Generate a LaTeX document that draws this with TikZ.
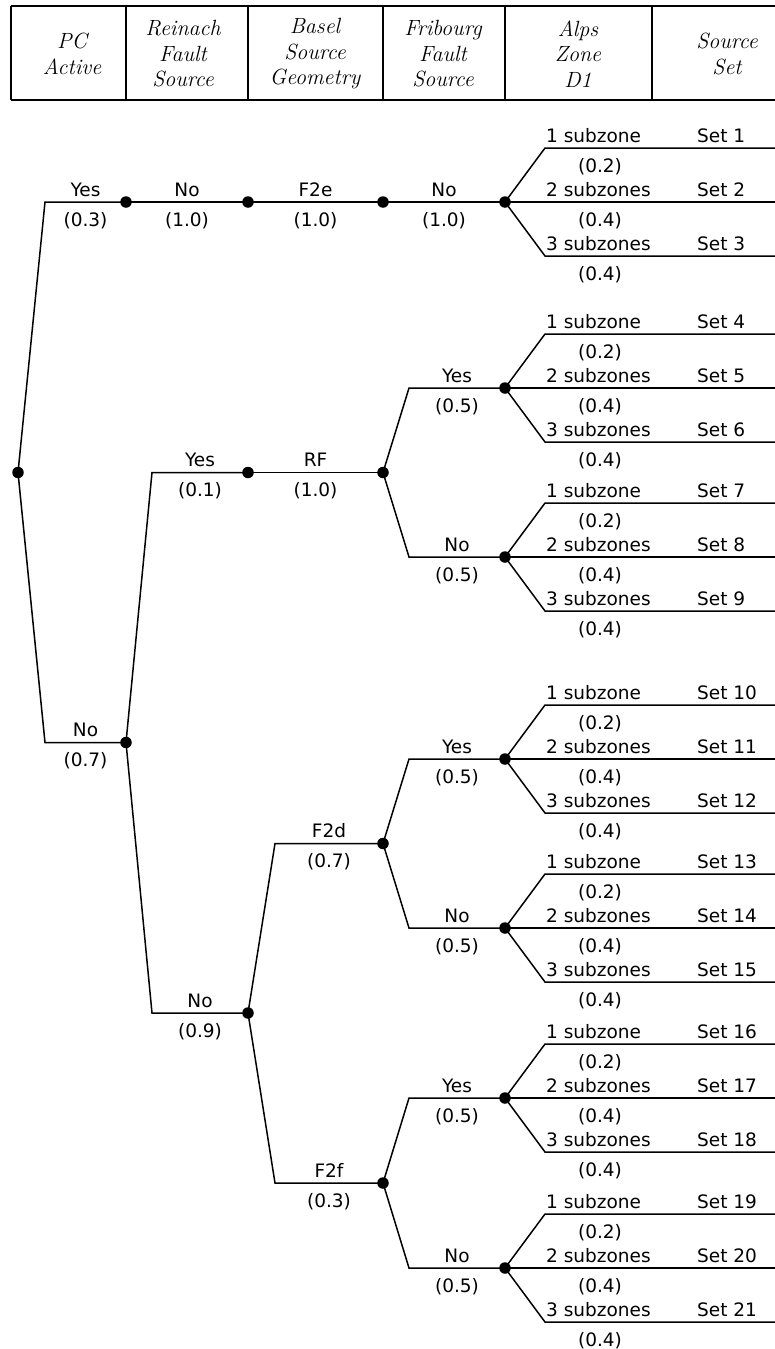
\documentclass[tikz,border=0pt]{standalone}
\usepackage{fontspec}
\newfontfamily\labfamily{DejaVu Sans}
\newcommand\labfont{\labfamily\fontsize{18.5}{21}\selectfont}
\newcommand\hdrfont{\itshape\fontsize{22}{25.5}\selectfont}
\begin{document}
\begin{tikzpicture}[x=1pt,y=-1pt,
  edge/.style={line width=1.5pt, line join=miter},
  hdrline/.style={line width=1.7pt},
  dot/.style={circle, fill=black, inner sep=0pt, minimum size=11.5pt},
  lab/.style={font=\labfont, inner sep=0pt},
  toplab/.style={lab, anchor=base, yshift=6pt},
  botlab/.style={lab, anchor=base, yshift=-24pt},
  hdr/.style={font=\hdrfont, align=center, inner sep=0pt}]
\useasboundingbox (0,0) rectangle (775,1349);

% ---------- header table ----------
\draw[hdrline] (11,6) -- (775,6);
\draw[hdrline] (11,100) -- (775,100);
\draw[hdrline] (11,6) -- (11,100);
\foreach \sx in {126,248,383,505,652}
  \draw[hdrline] (\sx,6) -- (\sx,100);
\node[hdr] (h1) at (72,54) {PC\\Active};
\node[hdr] (h2) at (183,54) {Reinach\\Fault\\Source};
\node[hdr] (h3) at (315,54) {Basel\\Source\\Geometry};
\node[hdr] (h4) at (443,54) {Fribourg\\Fault\\Source};
\node[hdr] (h5) at (578,54) {Alps\\Zone\\D1};
\node[hdr] (h6) at (727,54) {Source\\Set};

% ---------- chance nodes ----------
\node[dot] (r)    at (18,472.5) {};
\node[dot] (pcY)  at (126,202) {};
\node[dot] (reN)  at (248,202) {};
\node[dot] (baE)  at (383,202) {};
\node[dot] (al1)  at (505,202) {};
\node[dot] (pcN)  at (126,742.5) {};
\node[dot] (reY)  at (248,472.5) {};
\node[dot] (baRF) at (383,472.5) {};
\node[dot] (al2)  at (505,388) {};
\node[dot] (al3)  at (505,557) {};
\node[dot] (reN2) at (248,1013) {};
\node[dot] (baD)  at (383,843.5) {};
\node[dot] (baF)  at (383,1183) {};
\node[dot] (al4)  at (505,759) {};
\node[dot] (al5)  at (505,928) {};
\node[dot] (al6)  at (505,1098) {};
\node[dot] (al7)  at (505,1268) {};

% ---------- corners ----------
\coordinate (k1)  at (45,202);
\coordinate (k2)  at (45,742.5);
\coordinate (k3)  at (152,472.5);
\coordinate (k4)  at (152,1013);
\coordinate (k5)  at (275,843.5);
\coordinate (k6)  at (275,1183);
\coordinate (k7)  at (409,388);
\coordinate (k8)  at (409,557);
\coordinate (k9)  at (409,759);
\coordinate (k10) at (409,928);
\coordinate (k11) at (409,1098);
\coordinate (k12) at (409,1268);

% ---------- branches ----------
\draw[edge] (r.center) -- (k1) -- (pcY.center)
  node[toplab, midway] {Yes} node[botlab, midway] {(0.3)};
\draw[edge] (pcY.center) -- (reN.center)
  node[toplab, midway] {No} node[botlab, midway] {(1.0)};
\draw[edge] (reN.center) -- (baE.center)
  node[toplab, midway] {F2e} node[botlab, midway] {(1.0)};
\draw[edge] (baE.center) -- (al1.center)
  node[toplab, midway] {No} node[botlab, midway] {(1.0)};
\draw[edge] (r.center) -- (k2) -- (pcN.center)
  node[toplab, midway] {No} node[botlab, midway] {(0.7)};
\draw[edge] (pcN.center) -- (k3) -- (reY.center)
  node[toplab, midway] {Yes} node[botlab, midway] {(0.1)};
\draw[edge] (reY.center) -- (baRF.center)
  node[toplab, midway] {RF} node[botlab, midway] {(1.0)};
\draw[edge] (baRF.center) -- (k7) -- (al2.center)
  node[toplab, midway] {Yes} node[botlab, midway] {(0.5)};
\draw[edge] (baRF.center) -- (k8) -- (al3.center)
  node[toplab, midway] {No} node[botlab, midway] {(0.5)};
\draw[edge] (pcN.center) -- (k4) -- (reN2.center)
  node[toplab, midway] {No} node[botlab, midway] {(0.9)};
\draw[edge] (reN2.center) -- (k5) -- (baD.center)
  node[toplab, midway] {F2d} node[botlab, midway] {(0.7)};
\draw[edge] (reN2.center) -- (k6) -- (baF.center)
  node[toplab, midway] {F2f} node[botlab, midway] {(0.3)};
\draw[edge] (baD.center) -- (k9) -- (al4.center)
  node[toplab, midway] {Yes} node[botlab, midway] {(0.5)};
\draw[edge] (baD.center) -- (k10) -- (al5.center)
  node[toplab, midway] {No} node[botlab, midway] {(0.5)};
\draw[edge] (baF.center) -- (k11) -- (al6.center)
  node[toplab, midway] {Yes} node[botlab, midway] {(0.5)};
\draw[edge] (baF.center) -- (k12) -- (al7.center)
  node[toplab, midway] {No} node[botlab, midway] {(0.5)};

% ---------- Alps zone leaves ----------
\foreach \g/\y/\s in {1/202/1, 2/388/4, 3/557/7, 4/759/10, 5/928/13, 6/1098/16, 7/1268/19}{
  \pgfmathtruncatemacro\sb{\s+1}
  \pgfmathtruncatemacro\sc{\s+2}
  \coordinate (ua\g) at (545,\y-54);
  \coordinate (ue\g) at (775,\y-54);
  \coordinate (me\g) at (775,\y);
  \coordinate (la\g) at (545,\y+54);
  \coordinate (le\g) at (775,\y+54);
  \draw[edge] (al\g.center) -- (ua\g) -- (ue\g);
  \draw[edge] (al\g.center) -- (me\g);
  \draw[edge] (al\g.center) -- (la\g) -- (le\g);
  \node[lab, anchor=base west] (za\g) at (546,\y-60) {1 subzone};
  \node[lab, anchor=base west] (sa\g) at (697,\y-60) {Set \s};
  \node[lab, anchor=base] (pa\g) at (600,\y-30) {(0.2)};
  \node[lab, anchor=base west] (zb\g) at (546,\y-6) {2 subzones};
  \node[lab, anchor=base west] (sb\g) at (697,\y-6) {Set \sb};
  \node[lab, anchor=base] (pb\g) at (600,\y+24) {(0.4)};
  \node[lab, anchor=base west] (zc\g) at (546,\y+48) {3 subzones};
  \node[lab, anchor=base west] (sc\g) at (697,\y+48) {Set \sc};
  \node[lab, anchor=base] (pc\g) at (600,\y+78) {(0.4)};
}
\end{tikzpicture}
\end{document}
